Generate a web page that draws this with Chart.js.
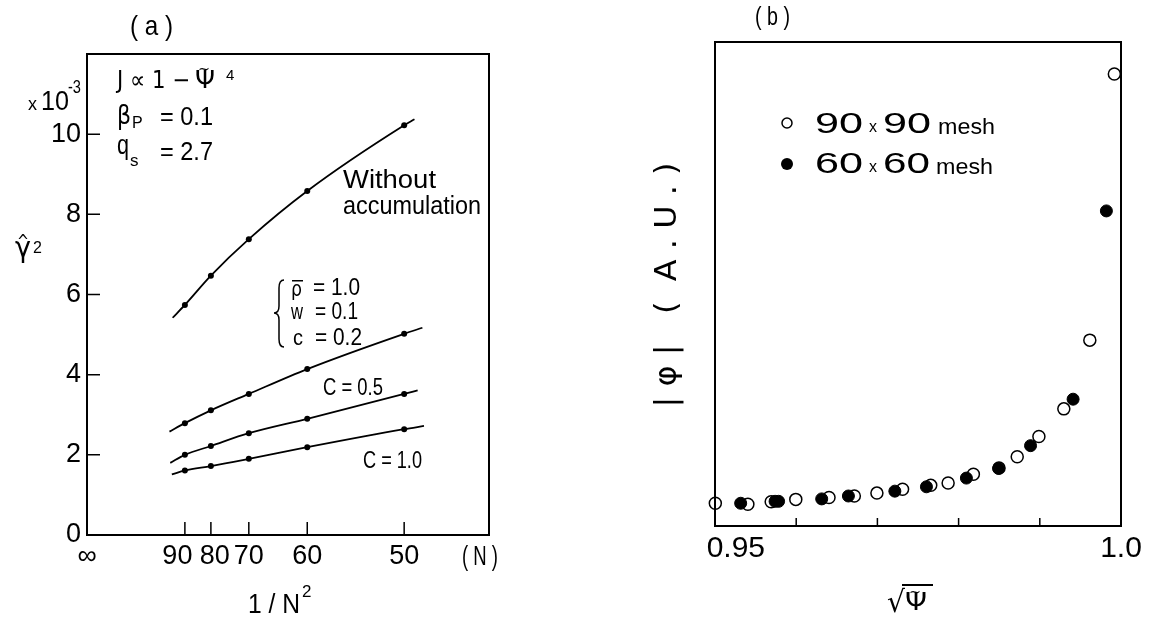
<!DOCTYPE html>
<html>
<head>
<meta charset="utf-8">
<script src="https://cdn.jsdelivr.net/npm/chart.js@4.4.1/dist/chart.umd.min.js"></script>
<style>
  html, body { margin: 0; padding: 0; background: #fff; }
  #wrap { position: relative; width: 1150px; height: 622px; overflow: hidden; background: #fff; }
  canvas { position: absolute; top: 0; }
  #ca { left: 0; }
  #cb { left: 560px; }
</style>
</head>
<body>
<div id="wrap">
  <canvas id="ca" width="560" height="622"></canvas>
  <canvas id="cb" width="590" height="622"></canvas>
</div>
<script>
// ---------------- Panel (a) data ----------------
const meshN = [90, 80, 70, 60, 50];
const xTickLabelsA = ['∞', '90', '80', '70', '60', '50'];
const gammaNoAcc = [5.74, 6.47, 7.38, 8.58, 10.22];
const gammaC02   = [2.79, 3.11, 3.52, 4.14, 5.02];
const gammaC05   = [2.00, 2.22, 2.54, 2.90, 3.52];
const gammaC10   = [1.61, 1.72, 1.90, 2.19, 2.64];
// ends of the drawn fit curves (1/N^2, gamma^2 x1e-3)
const fitStartX = [1.08e-4, 1.04e-4, 1.05e-4, 1.07e-4];
const fitStartY = [5.42, 2.58, 1.80, 1.51];
const fitEndX   = [4.13e-4, 4.23e-4, 4.17e-4, 4.25e-4];
const fitEndY   = [10.37, 5.17, 3.61, 2.72];
const yTicksA = [0, 2, 4, 6, 8, 10];

// ---------------- Panel (b) data ----------------
const open90X = [0.95004, 0.95405, 0.95692, 0.95995, 0.96404, 0.96716, 0.96994, 0.97310, 0.97657,
                 0.97871, 0.98182, 0.98498, 0.98722, 0.98989, 0.99296, 0.99616, 0.99918];
const open90Y = [0.47, 0.45, 0.50, 0.55, 0.59, 0.62, 0.68, 0.76, 0.84,
                 0.89, 1.07, 1.20, 1.43, 1.85, 2.42, 3.84, 9.34];
const fill60X = [0.95316, 0.95740, 0.95783, 0.96314, 0.96643, 0.97215, 0.97604, 0.98096, 0.98493,
                 0.98886, 0.99410, 0.99820];
const fill60Y = [0.47, 0.51, 0.51, 0.56, 0.62, 0.72, 0.81, 0.99, 1.19,
                 1.66, 2.62, 6.51];
const xTicksB = [0.95, 0.96, 0.97, 0.98, 0.99, 1.0];
const xTickLabelsB = ['0.95', '', '', '', '', '1.0'];

const FONT = '"Liberation Sans", Arial, sans-serif';
const SYM = '"DejaVu Sans", "Liberation Sans", sans-serif';

const invN2 = meshN.map(n => 1 / (n * n));
const xTicksA = [0].concat(invN2);
// small spacing nudges so crowded labels do not collide (as in the original)
const padA = [['', ''], ['', '  '], [' ', ''], ['', ''], ['', ''], ['', '']];

function drawText(ctx, t) {
  ctx.save();
  ctx.font = (t.weight || '') + ' ' + t.size + 'px ' + (t.font || FONT);
  ctx.fillStyle = '#000';
  ctx.textBaseline = t.base || 'alphabetic';
  ctx.textAlign = 'left';
  const m = ctx.measureText(t.s).width;
  const sx = t.w ? t.w / m : 1;
  ctx.translate(t.x, t.y);
  if (t.rot) ctx.rotate(t.rot);
  ctx.scale(sx, 1);
  ctx.fillText(t.s, t.align === 'center' ? -m / 2 : 0, 0);
  ctx.restore();
}

function frame(ctx, a) {
  ctx.save();
  ctx.strokeStyle = '#000';
  ctx.lineWidth = 2;
  ctx.strokeRect(a.left, a.top, a.right - a.left, a.bottom - a.top);
  ctx.restore();
}

// ---------- annotations panel (a) ----------
const textsA = [
  { s: '( a )', x: 130, y: 35, size: 28, w: 43 },
  { s: 'x', x: 28, y: 110, size: 18, w: 9 },
  { s: '10', x: 41, y: 110, size: 27, w: 28 },
  { s: '-3', x: 68, y: 93, size: 18, w: 13 },
  { s: 'J ∝ 1 −', x: 117, y: 88, size: 24, w: 73, font: SYM },
  { s: 'Ψ', x: 195, y: 88, size: 24, w: 20, font: SYM },
  { s: '~', x: 198, y: 74, size: 16, w: 12, font: SYM },
  { s: '4', x: 226, y: 80, size: 15 },
  { s: 'β', x: 117, y: 124, size: 26, w: 14, font: SYM },
  { s: 'P', x: 132, y: 128, size: 16 },
  { s: '= 0.1', x: 160, y: 125, size: 25, w: 53 },
  { s: 'q', x: 117, y: 154, size: 27, w: 12 },
  { s: 's', x: 130, y: 166, size: 17 },
  { s: '= 2.7', x: 160, y: 160, size: 25, w: 53 },
  { s: 'Without', x: 343, y: 188, size: 25, w: 93 },
  { s: 'accumulation', x: 343, y: 214, size: 25, w: 138 },
  { s: 'γ', x: 15, y: 257, size: 28, w: 16, font: SYM },
  { s: '^', x: 17, y: 247, size: 18, w: 12, font: SYM },
  { s: '2', x: 33, y: 253, size: 16 },
  { s: 'ρ', x: 291, y: 296, size: 22, w: 11, font: SYM },
  { s: '= 1.0', x: 313, y: 295, size: 24, w: 47 },
  { s: 'w', x: 291, y: 319, size: 22, w: 12 },
  { s: '= 0.1', x: 315, y: 319, size: 24, w: 43 },
  { s: 'c', x: 293, y: 345, size: 22, w: 10 },
  { s: '= 0.2', x: 315, y: 345, size: 24, w: 47 },
  { s: 'C = 0.5', x: 323, y: 395, size: 24, w: 60 },
  { s: 'C = 1.0', x: 363, y: 468, size: 24, w: 59 },
  { s: '( N )', x: 462, y: 565, size: 28, w: 36 },
  { s: '1 / N', x: 248, y: 613, size: 28, w: 52 },
  { s: '2', x: 302, y: 597, size: 17 }
];

const annotA = {
  id: 'annotA',
  afterDraw(chart) {
    const ctx = chart.ctx, a = chart.chartArea;
    const xs = chart.scales.x, ys = chart.scales.y;
    frame(ctx, a);
    ctx.save();
    ctx.strokeStyle = '#000';
    ctx.lineWidth = 1.5;
    ctx.beginPath();
    invN2.forEach(v => {
      const px = xs.getPixelForValue(v);
      ctx.moveTo(px, a.bottom); ctx.lineTo(px, a.bottom - 13);
    });
    yTicksA.slice(1).forEach(v => {
      const py = ys.getPixelForValue(v);
      ctx.moveTo(a.left, py); ctx.lineTo(a.left + 13, py);
    });
    ctx.stroke();
    // macron over rho
    ctx.fillRect(292, 280, 11, 1.5);
    // brace
    ctx.lineWidth = 1.5;
    ctx.beginPath();
    ctx.moveTo(284, 280);
    ctx.quadraticCurveTo(279, 280, 279, 288);
    ctx.lineTo(279, 306);
    ctx.quadraticCurveTo(279, 313, 274, 313);
    ctx.quadraticCurveTo(279, 313, 279, 320);
    ctx.lineTo(279, 339);
    ctx.quadraticCurveTo(279, 347, 284, 347);
    ctx.stroke();
    ctx.restore();
    textsA.forEach(t => drawText(ctx, t));
  }
};

function curve(i, ys) {
  const pts = [{ x: fitStartX[i], y: fitStartY[i] }];
  invN2.forEach((x, k) => pts.push({ x: x, y: ys[k] }));
  pts.push({ x: fitEndX[i], y: fitEndY[i] });
  return {
    data: pts,
    showLine: true,
    borderColor: '#000',
    borderWidth: 1.8,
    pointRadius: pts.map((_, k) => (k === 0 || k === pts.length - 1) ? 0 : 3),
    pointBackgroundColor: '#000',
    pointBorderColor: '#000',
    pointBorderWidth: 0,
    cubicInterpolationMode: 'monotone',
    fill: false,
    clip: false
  };
}

new Chart(document.getElementById('ca'), {
  type: 'scatter',
  data: {
    datasets: [curve(0, gammaNoAcc), curve(1, gammaC02), curve(2, gammaC05), curve(3, gammaC10)]
  },
  options: {
    responsive: false,
    animation: false,
    events: [],
    layout: { padding: { top: 54, right: 71, left: 0, bottom: 0 } },
    plugins: { legend: { display: false }, tooltip: { enabled: false } },
    scales: {
      x: {
        type: 'linear', min: 0, max: 5.07e-4,
        grid: { display: false, drawTicks: false },
        border: { display: false },
        afterBuildTicks: s => { s.ticks = xTicksA.map(v => ({ value: v })); },
        afterFit: s => { s.height = 87; },
        ticks: {
          autoSkip: false, maxRotation: 0, minRotation: 0, padding: 5,
          color: '#000',
          font: { family: FONT, size: 27, lineHeight: 1.2 },
          callback: (v, i) => padA[i][0] + xTickLabelsA[i] + padA[i][1]
        }
      },
      y: {
        type: 'linear', min: 0, max: 12,
        grid: { display: false, drawTicks: false },
        border: { display: false },
        afterBuildTicks: s => { s.ticks = yTicksA.map(v => ({ value: v })); },
        afterFit: s => { s.width = 87; },
        ticks: {
          padding: 6, color: '#000',
          font: { family: FONT, size: 27 },
          callback: v => String(v)
        }
      }
    }
  },
  plugins: [annotA]
});

// ---------- annotations panel (b) ----------
const OFF = 560;
const textsB = [
  { s: '( b )', x: 755 - OFF, y: 25, size: 26, w: 35 },
  { s: '90', x: 815 - OFF, y: 133, size: 29, w: 48 },
  { s: 'x', x: 869 - OFF, y: 132, size: 16, w: 8 },
  { s: '90', x: 883 - OFF, y: 133, size: 29, w: 48 },
  { s: 'mesh', x: 938 - OFF, y: 134, size: 22, w: 57 },
  { s: '60', x: 815 - OFF, y: 173, size: 29, w: 48 },
  { s: 'x', x: 869 - OFF, y: 172, size: 16, w: 8 },
  { s: '60', x: 883 - OFF, y: 173, size: 29, w: 47 },
  { s: 'mesh', x: 936 - OFF, y: 174, size: 22, w: 57 },
  { s: '| φ |   (  A . U . )', x: 668 - OFF, y: 285, size: 30, w: 245, align: 'center', rot: -Math.PI / 2, base: 'middle', font: SYM },
  { s: '√', x: 887 - OFF, y: 612, size: 30, w: 18, font: SYM },
  { s: 'Ψ', x: 905 - OFF, y: 610, size: 24, w: 22, font: SYM },
  { s: '~', x: 909 - OFF, y: 597, size: 14, w: 12, font: SYM }
];

const annotB = {
  id: 'annotB',
  afterDraw(chart) {
    const ctx = chart.ctx, a = chart.chartArea;
    const xs = chart.scales.x;
    frame(ctx, a);
    ctx.save();
    ctx.strokeStyle = '#000';
    ctx.lineWidth = 1.5;
    ctx.beginPath();
    xTicksB.slice(1, -1).forEach(v => {
      const px = xs.getPixelForValue(v);
      ctx.moveTo(px, a.bottom); ctx.lineTo(px, a.bottom - 8);
    });
    ctx.stroke();
    // overline of the square root
    ctx.fillStyle = '#000';
    ctx.fillRect(902 - OFF, 584, 31, 2);
    // legend symbols
    ctx.lineWidth = 1.5;
    ctx.beginPath();
    ctx.arc(787 - OFF, 123, 5, 0, Math.PI * 2);
    ctx.stroke();
    ctx.beginPath();
    ctx.arc(787 - OFF, 164, 6, 0, Math.PI * 2);
    ctx.fill();
    ctx.restore();
    textsB.forEach(t => drawText(ctx, t));
  }
};

new Chart(document.getElementById('cb'), {
  type: 'scatter',
  data: {
    datasets: [
      {
        label: '90 x 90 mesh',
        data: open90X.map((x, i) => ({ x: x, y: open90Y[i] })),
        pointRadius: 6,
        pointBackgroundColor: 'rgba(0,0,0,0)',
        pointBorderColor: '#000',
        pointBorderWidth: 1.5,
        order: 0,
        clip: false
      },
      {
        label: '60 x 60 mesh',
        data: fill60X.map((x, i) => ({ x: x, y: fill60Y[i] })),
        pointRadius: 6,
        pointBackgroundColor: '#000',
        pointBorderColor: '#000',
        pointBorderWidth: 1,
        order: 1,
        clip: false
      }
    ]
  },
  options: {
    responsive: false,
    animation: false,
    events: [],
    layout: { padding: { top: 42, right: 29, left: 0, bottom: 0 } },
    plugins: { legend: { display: false }, tooltip: { enabled: false } },
    scales: {
      x: {
        type: 'linear', min: 0.95, max: 1.0,
        grid: { display: false, drawTicks: false },
        border: { display: false },
        afterBuildTicks: s => { s.ticks = xTicksB.map(v => ({ value: v })); },
        afterFit: s => { s.height = 96; },
        ticks: {
          autoSkip: false, maxRotation: 0, minRotation: 0, padding: 5,
          color: '#000',
          font: { family: FONT, size: 30, lineHeight: 1.2 },
          callback: (v, i) => (i === 0 ? '     ' : '') + xTickLabelsB[i]
        }
      },
      y: {
        type: 'linear', min: 0, max: 10,
        grid: { display: false, drawTicks: false },
        border: { display: false },
        afterFit: s => { s.width = 155; },
        ticks: { display: false }
      }
    }
  },
  plugins: [annotB]
});
</script>
</body>
</html>
